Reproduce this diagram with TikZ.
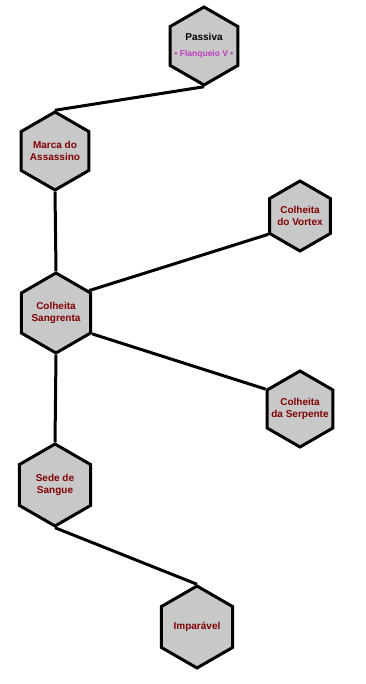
\documentclass[tikz,border=0pt]{standalone}
\usepackage{fontspec}
\setmainfont{Liberation Sans}
\usetikzlibrary{shapes.geometric}
\definecolor{hexfill}{RGB}{200,200,200}
\definecolor{skillred}{RGB}{128,0,0}
\definecolor{flank}{RGB}{190,60,190}

\begin{document}
\begin{tikzpicture}[x=1pt,y=-1pt,
    hex/.style={regular polygon,regular polygon sides=6,shape border rotate=30,
        draw=black,line width=3pt,fill=hexfill,minimum size=78pt,inner sep=-8pt,
        align=center,text=skillred,font=\bfseries\fontsize{10}{12.5}\selectfont},
    link/.style={line width=3pt}]
                \useasboundingbox (0,0) rectangle (365,684);
                % skill nodes
                \node[hex,text=black] (P) at (204,46) {Passiva\\[3pt]{\color{flank}\fontsize{8.5}{10}\selectfont • Flanqueio V •}};
                \node[hex] (M) at (55,151) {Marca do\\Assassino};
                \node[hex,minimum size=70pt] (V) at (300,216) {Colheita\\do Vortex};
                \node[hex,minimum size=80pt] (S) at (56,313) {Colheita\\Sangrenta};
                \node[hex,minimum size=76pt] (Sp) at (300,409) {Colheita\\da Serpente};
                \node[hex,minimum size=82pt] (SS) at (55,485) {Sede de\\Sangue};
                \node[hex,minimum size=82pt] (I) at (197,627) {Imparável};
                % links between them
                \draw[link] (P.south) -- (M.north);
                \draw[link] (M.south) -- (S.north);
                \draw[link] (S.34) -- (V.210);
                \draw[link] (S.330) -- (Sp.150);
                \draw[link] (S.south) -- (SS.north);
                \draw[link] (SS.south) -- (I.north);
            \end{tikzpicture}
\end{document}
